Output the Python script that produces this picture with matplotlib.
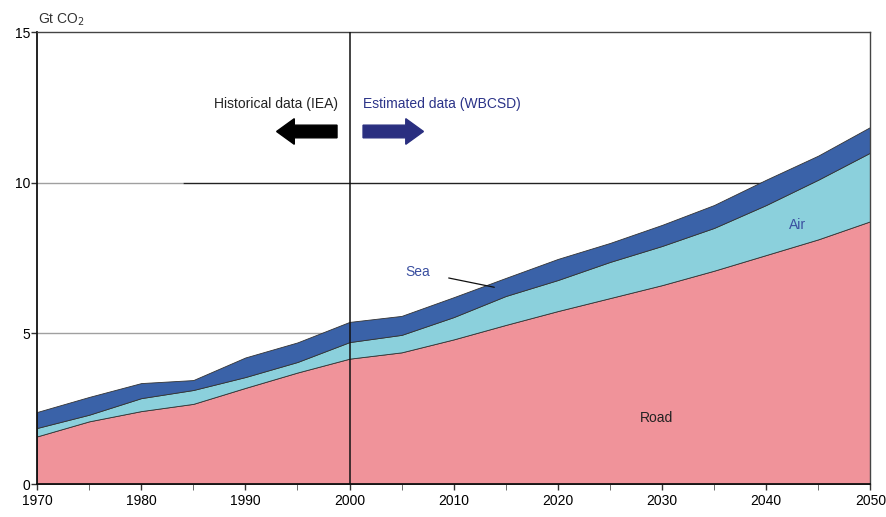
import matplotlib.pyplot as plt
from matplotlib.patches import FancyArrow

plt.rcParams['font.family'] = ['Liberation Sans', 'DejaVu Sans']

# valores (Gt CO2, limites acumulados)
anos = [1970, 1975, 1980, 1985, 1990, 1995, 2000, 2005, 2010,
        2015, 2020, 2025, 2030, 2035, 2040, 2045, 2050]
road = [1.58, 2.08, 2.42, 2.66, 3.19, 3.70, 4.16, 4.37, 4.80,
        5.28, 5.74, 6.17, 6.60, 7.08, 7.60, 8.12, 8.72]
air = [0.28, 0.22, 0.43, 0.46, 0.36, 0.35, 0.55, 0.58, 0.74,
       0.96, 1.03, 1.20, 1.30, 1.42, 1.66, 1.98, 2.28]
sea = [0.53, 0.59, 0.50, 0.33, 0.65, 0.65, 0.67, 0.63, 0.66,
       0.60, 0.70, 0.63, 0.70, 0.76, 0.84, 0.80, 0.85]

cores = ['#f0939a', '#8bd0dc', '#3a62a8']

fig = plt.figure(figsize=(8.86, 5.17), dpi=100)
ax = fig.add_axes([0.0418, 0.0638, 0.9405, 0.8742])

# linhas de grade atras das areas
ax.hlines(5, 1970, 2050, color='#a0a0a0', lw=1, zorder=0)
ax.hlines(10, 1970, 1984, color='#a0a0a0', lw=1, zorder=0)
ax.hlines(10, 1984, 2050, color='#222222', lw=1, zorder=0)

polys = ax.stackplot(anos, road, air, sea, colors=cores,
                     edgecolor='#333333', linewidth=0.6, zorder=1)

ax.axvline(2000, color='#111111', lw=1.1, zorder=3)

ax.set_xlim(1970, 2050)
ax.set_ylim(0, 15)
ax.set_yticks([0, 5, 10, 15])
ax.set_xticks(range(1970, 2051, 10))
ax.set_xticks(range(1975, 2050, 10), minor=True)
ax.tick_params(axis='both', labelsize=10, length=4, width=1, color='#333333')
ax.tick_params(axis='x', which='minor', length=4, color='#555555')
ax.tick_params(axis='y', pad=1)
for s in ['left', 'bottom']:
    ax.spines[s].set_color('#111111')
    ax.spines[s].set_linewidth(1.3)
for s in ['top', 'right']:
    ax.spines[s].set_color('#444444')
    ax.spines[s].set_linewidth(1)

fig.text(0.043, 0.955, 'Gt CO$_2$', fontsize=10, color='#333333')

# textos e setas
ax.text(1998.9, 12.6, 'Historical data (IEA)', ha='right', va='center',
        fontsize=10, color='#222222')
ax.text(2001.3, 12.6, 'Estimated data (WBCSD)', ha='left', va='center',
        fontsize=10, color='#2b3388')
ax.add_patch(FancyArrow(1998.8, 11.7, -5.8, 0, width=0.42, head_width=0.85,
                        head_length=1.7, length_includes_head=True,
                        color='black', zorder=4))
ax.add_patch(FancyArrow(2001.3, 11.7, 5.8, 0, width=0.42, head_width=0.85,
                        head_length=1.7, length_includes_head=True,
                        color='#2a2f80', zorder=4))

ax.text(2029.5, 2.2, 'Road', ha='center', va='center', fontsize=10, color='#222222')
ax.text(2043, 8.6, 'Air', ha='center', va='center', fontsize=10, color='#3a4fa0')
ax.annotate('Sea', xy=(2013.9, 6.53), xytext=(2006.5, 7.05), fontsize=10,
            color='#3a4fa0', ha='center', va='center',
            arrowprops=dict(arrowstyle='-', color='#111111', lw=0.9,
                            shrinkA=12, shrinkB=0))

plt.savefig('out.png', dpi=100)
